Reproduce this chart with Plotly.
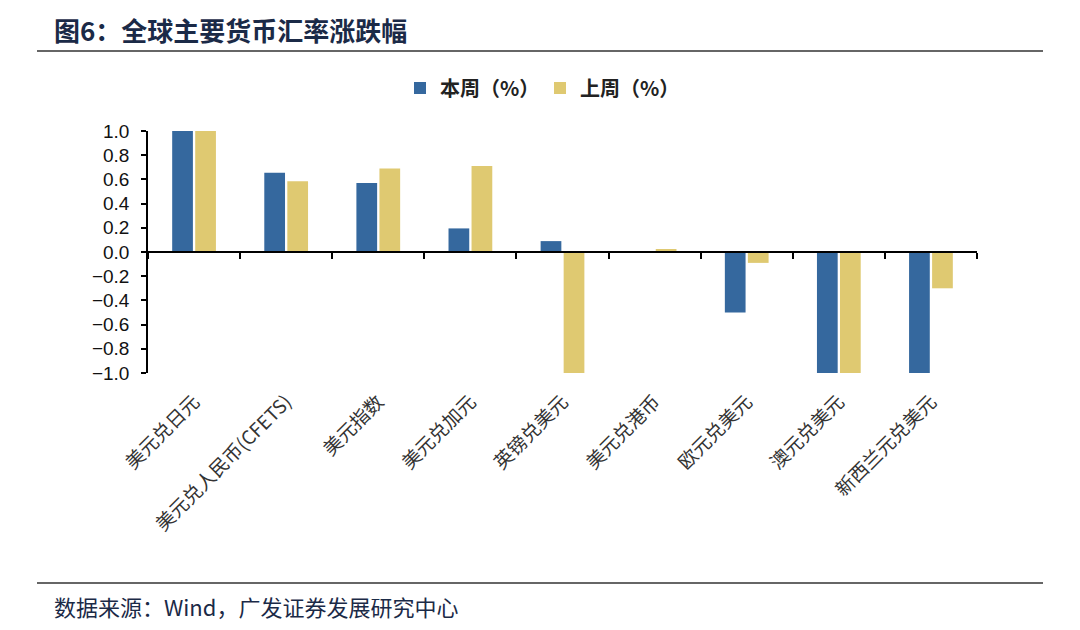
import plotly.graph_objects as go

categories = ["美元兑日元", "美元兑人民币(CFETS)", "美元指数", "美元兑加元", "英镑兑美元",
              "美元兑港币", "欧元兑美元", "澳元兑美元", "新西兰元兑美元"]
this_week = [1.05, 0.655, 0.57, 0.195, 0.09, 0.0, -0.50, -1.05, -1.05]
last_week = [1.05, 0.585, 0.69, 0.71, -1.05, 0.025, -0.09, -1.05, -0.30]
series_names = ["本周（%）", "上周（%）"]
y_ticks = [1.0, 0.8, 0.6, 0.4, 0.2, 0.0, -0.2, -0.4, -0.6, -0.8, -1.0]

BLUE = "#35689E"
YELLOW = "#DFC971"
CJK = "Noto Sans CJK SC"

W, H = 1080, 630
OFF = 8  # page body margin
# target page-pixel positions of the plot area
PX0, PX1, PY0, PY1 = 148, 977, 131, 373
L = PX0 - OFF
R = W - (PX1 - OFF)
T = PY0 - OFF
B = H - (PY1 - OFF)
PW = W - L - R
PH = H - T - B


def px_x(p):
    return (p - OFF - L) / PW


def px_y(p):
    return (H - B - (p - OFF)) / PH


fig = go.Figure()
fig.add_trace(go.Bar(x=categories, y=this_week, name="<b>" + series_names[0] + "</b>",
                     marker=dict(color=BLUE, line=dict(width=0))))
fig.add_trace(go.Bar(x=categories, y=last_week, name="<b>" + series_names[1] + "</b>",
                     marker=dict(color=YELLOW, line=dict(width=0))))
# helper trace for the zero-line axis with boundary ticks
fig.add_trace(go.Scatter(x=categories, y=[0] * len(categories), xaxis="x2",
                         mode="markers", marker=dict(opacity=0), showlegend=False,
                         hoverinfo="skip"))

fig.update_layout(
    width=W, height=H,
    margin=dict(l=L, r=R, t=T, b=B, autoexpand=False),
    paper_bgcolor="white", plot_bgcolor="white",
    barmode="group", bargap=0.5, bargroupgap=0.1,
    font=dict(family=CJK, color="#222"),
    legend=dict(orientation="h", x=px_x(400), y=px_y(88), xanchor="left", yanchor="middle",
                font=dict(family=CJK, size=20, color="#222"),
                entrywidth=95, entrywidthmode="pixels", itemwidth=30,
                bgcolor="rgba(0,0,0,0)"),
    xaxis=dict(type="category", showline=False, ticks="", tickangle=-45,
               tickfont=dict(family=CJK, size=19, color="#333"),
               ticklabelstandoff=13,
               showgrid=False, zeroline=False),
    xaxis2=dict(type="category", matches="x", overlaying="x", anchor="free",
                position=0.5, side="bottom", showticklabels=False,
                showline=True, linecolor="black", linewidth=1.5,
                ticks="outside", tickson="boundaries", ticklen=6,
                tickwidth=1.5, tickcolor="black", showgrid=False, zeroline=False),
    yaxis=dict(range=[-1.0, 1.0], tickvals=y_ticks, tickformat=".1f",
               showline=True, linecolor="black", linewidth=1.5,
               ticks="outside", ticklen=5, tickwidth=1.5, tickcolor="black",
               ticklabelstandoff=8,
               tickfont=dict(family="Liberation Sans, Arial", size=19, color="#111"),
               showgrid=False, zeroline=False),
)

# header / footer text and rules
fig.add_annotation(text="<b>图6：全球主要货币汇率涨跌幅</b>", xref="paper", yref="paper",
                   x=px_x(52), y=px_y(30),
                   xanchor="left", yanchor="middle", showarrow=False,
                   font=dict(family=CJK, size=26, color="#1b2a47"))
fig.add_annotation(text="数据来源：Wind，广发证券发展研究中心", xref="paper", yref="paper",
                   x=px_x(52), y=px_y(606),
                   xanchor="left", yanchor="middle", showarrow=False,
                   font=dict(family=CJK, size=22, color="#1b2a47"))
for ypix in (51, 583):
    fig.add_shape(type="line", xref="paper", yref="paper", x0=px_x(37), x1=px_x(1043),
                  y0=px_y(ypix), y1=px_y(ypix), line=dict(color="#333", width=1.5))

fig.write_html("out.html")
